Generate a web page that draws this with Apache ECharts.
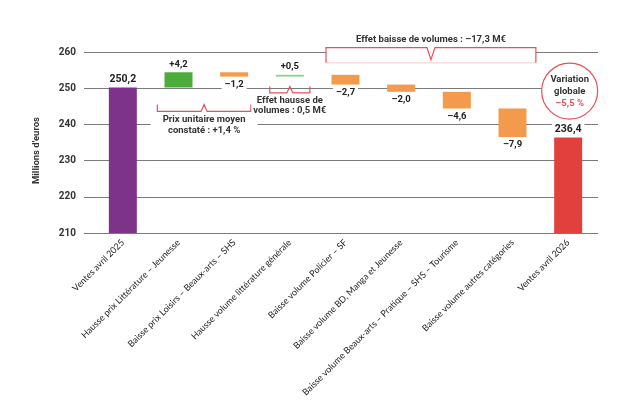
<!DOCTYPE html>
<html>
<head>
<meta charset="utf-8">
<script src="https://cdn.jsdelivr.net/npm/echarts@6/dist/echarts.min.js"></script>
<style>
  html, body { margin: 0; padding: 0; background: #fff; }
  #main { width: 644px; height: 414px; }
</style>
</head>
<body>
<div id="main"></div>
<script>
var categories = [
  'Ventes avril 2025',
  'Hausse prix Littérature – Jeunesse',
  'Baisse prix Loisirs – Beaux-arts – SHS',
  'Hausse volume littérature générale',
  'Baisse volume Policier – SF',
  'Baisse volume BD, Manga et Jeunesse',
  'Baisse volume Beaux-arts – Pratique – SHS – Tourisme',
  'Baisse volume autres catégories',
  'Ventes avril 2026'
];
var startTotal = 250.2;
var endTotal = 236.4;
var changes = [4.2, -1.2, 0.5, -2.7, -2.0, -4.6, -7.9];
var barColors = ['#7e338a', '#4cab3b', '#f39a4c', '#8fd18a', '#f39a4c', '#f39a4c', '#f39a4c', '#f39a4c', '#e2403d'];
var yMin = 210, yMax = 260, yStep = 10;

var FONT = "'Roboto', sans-serif";
var PINK = '#e8505b';

function fmt(v) { /* virgule décimale, tiret pour le négatif */
  var s = Math.abs(v).toFixed(1).replace('.', ',');
  return v < 0 ? '–' + s : s;
}

/* cascade : base transparente + barre visible */
var baseData = [0], barData = [], labelTexts = [];
barData.push({ value: startTotal, itemStyle: { color: barColors[0] }, label: { position: 'top', fontSize: 10.5 } });
labelTexts.push(fmt(startTotal));
var run = startTotal;
changes.forEach(function (d, i) {
  var next = run + d;
  baseData.push(Math.min(run, next));
  barData.push({
    value: Math.abs(d),
    itemStyle: { color: barColors[i + 1] },
    label: { position: d >= 0 ? 'top' : 'bottom' }
  });
  labelTexts.push(d >= 0 ? '+' + fmt(d) : fmt(d));
  run = next;
});
baseData.push(0);
barData.push({ value: endTotal, itemStyle: { color: barColors[8] }, label: { position: 'top', fontSize: 10.5 } });
labelTexts.push(fmt(endTotal));

var chart = echarts.init(document.getElementById('main'));

var option = {
  animation: false,
  textStyle: { fontFamily: FONT },
  grid: [
    { left: 84, right: 46, top: 52, bottom: 181 },  /* grille de fond */
    { left: 95, right: 48, top: 52, bottom: 181 }   /* barres */
  ],
  xAxis: [
    { gridIndex: 0, type: 'value', min: 0, max: 1, show: false },
    {
      gridIndex: 1, type: 'category', data: categories,
      axisLine: { show: false }, axisTick: { show: false },
      axisLabel: { rotate: 45, interval: 0, margin: 8, fontSize: 9, color: '#222', fontFamily: 'Lato' }
    }
  ],
  yAxis: [
    {
      gridIndex: 0, type: 'value', min: yMin, max: yMax, interval: yStep,
      name: "Millions d'euros", nameLocation: 'middle', nameGap: 42,
      nameTextStyle: { fontSize: 9.5, fontWeight: 'bold', color: '#333', padding: [0, 0, 0, -16] },
      axisLine: { show: false }, axisTick: { show: false },
      axisLabel: { margin: 8, fontSize: 10, fontWeight: 'bold', color: '#333' },
      splitLine: { lineStyle: { color: '#7a7a7a', width: 1.2 } }
    },
    { gridIndex: 1, type: 'value', min: yMin, max: yMax, interval: yStep, show: false, splitLine: { show: false } }
  ],
  series: [
    {
      name: 'base', type: 'bar', stack: 'w', xAxisIndex: 1, yAxisIndex: 1,
      barWidth: 28, itemStyle: { color: 'rgba(0,0,0,0)' }, silent: true,
      data: baseData
    },
    {
      name: 'valeur', type: 'bar', stack: 'w', xAxisIndex: 1, yAxisIndex: 1,
      barWidth: 28,
      label: {
        show: true, distance: 2, fontSize: 9.5, fontWeight: 'bold', color: '#222',
        backgroundColor: '#fff', padding: [1, 3],
        formatter: function (p) { return labelTexts[p.dataIndex]; }
      },
      data: barData
    }
  ]
};
chart.setOption(option);

/* annotations ancrées sur les axes */
function px(i, v) { return chart.convertToPixel({ gridIndex: 1 }, [i, v]); }

function bracketUp(x1, x2, yH, yT) { /* accolade ouverte vers le haut, pointe au centre */
  var xc = (x1 + x2) / 2;
  return [[x1, yT], [x1, yH], [xc - 3, yH], [xc, yT], [xc + 3, yH], [x2, yH], [x2, yT]];
}

function drawNotes() {
  var bw = px(1, yMin)[0] - px(0, yMin)[0];
  var y = function (v) { return px(0, v)[1]; };
  var txt = { fontSize: 9.5, fontWeight: 'bold', fill: '#333', fontFamily: FONT };
  var g = [];

  /* prix unitaire moyen */
  var a1 = px(1, 0)[0] - 0.38 * bw, a2 = px(2, 0)[0] + 0.3 * bw;
  g.push({ type: 'polyline', shape: { points: bracketUp(a1, a2, y(243.6), y(245.5)) }, style: { stroke: PINK, lineWidth: 1.2, fill: null } });
  g.push({
    type: 'text', x: (a1 + a2) / 2, y: y(239.9),
    style: Object.assign({ text: 'Prix unitaire moyen\nconstaté : +1,4 %', align: 'center', verticalAlign: 'middle', lineHeight: 11, backgroundColor: '#fff', padding: [1, 12] }, txt)
  });

  /* effet hausse de volumes */
  var c3 = px(3, 0)[0];
  g.push({ type: 'polyline', shape: { points: bracketUp(c3 - 0.36 * bw, c3 + 0.36 * bw, y(248.7), y(250.5)) }, style: { stroke: PINK, lineWidth: 1.2, fill: null } });
  g.push({
    type: 'text', x: c3, y: y(245.2),
    style: Object.assign({ text: 'Effet hausse de\nvolumes : 0,5 M€', align: 'center', verticalAlign: 'middle', lineHeight: 10, backgroundColor: '#fff', padding: [1, 2] }, txt)
  });

  /* effet baisse de volumes */
  var b1 = px(4, 0)[0] - 0.35 * bw, b2 = px(7, 0)[0] + 0.42 * bw, bc = (b1 + b2) / 2;
  var yT = y(261.2), yB = y(257), yV = y(257.9);
  g.push({ type: 'rect', shape: { x: b1, y: yT, width: b2 - b1, height: yB - yT }, style: { fill: '#fff', stroke: null } });
  g.push({ type: 'line', shape: { x1: b1, y1: yB, x2: b2, y2: yB }, style: { stroke: 'rgba(232,80,91,0.3)', lineWidth: 1 } });
  g.push({
    type: 'polyline',
    shape: { points: [[b1, yB], [b1, yT], [bc - 4, yT], [bc, yV], [bc + 4, yT], [b2, yT], [b2, yB]] },
    style: { stroke: PINK, lineWidth: 1.2, fill: null }
  });
  g.push({
    type: 'text', x: bc, y: y(263.4),
    style: Object.assign({ text: 'Effet baisse de volumes : –17,3 M€', align: 'center', verticalAlign: 'middle' }, txt)
  });

  /* variation globale */
  var c8 = px(8, 249.2);
  g.push({ type: 'circle', shape: { cx: c8[0] + 1.5, cy: c8[1], r: 28 }, style: { fill: '#fff', stroke: PINK, lineWidth: 1.2 } });
  g.push({
    type: 'text', x: c8[0] + 1.5, y: c8[1] + 1,
    style: {
      text: '{a|Variation}\n{a|globale}\n{b|–5,5 %}', align: 'center', verticalAlign: 'middle',
      rich: {
        a: { fontSize: 9.5, fontWeight: 'bold', fill: '#333', fontFamily: FONT, lineHeight: 12 },
        b: { fontSize: 9.5, fontWeight: 'bold', fill: PINK, fontFamily: FONT, lineHeight: 12 }
      }
    }
  });

  chart.setOption({ graphic: g });
}
drawNotes();
</script>
</body>
</html>
